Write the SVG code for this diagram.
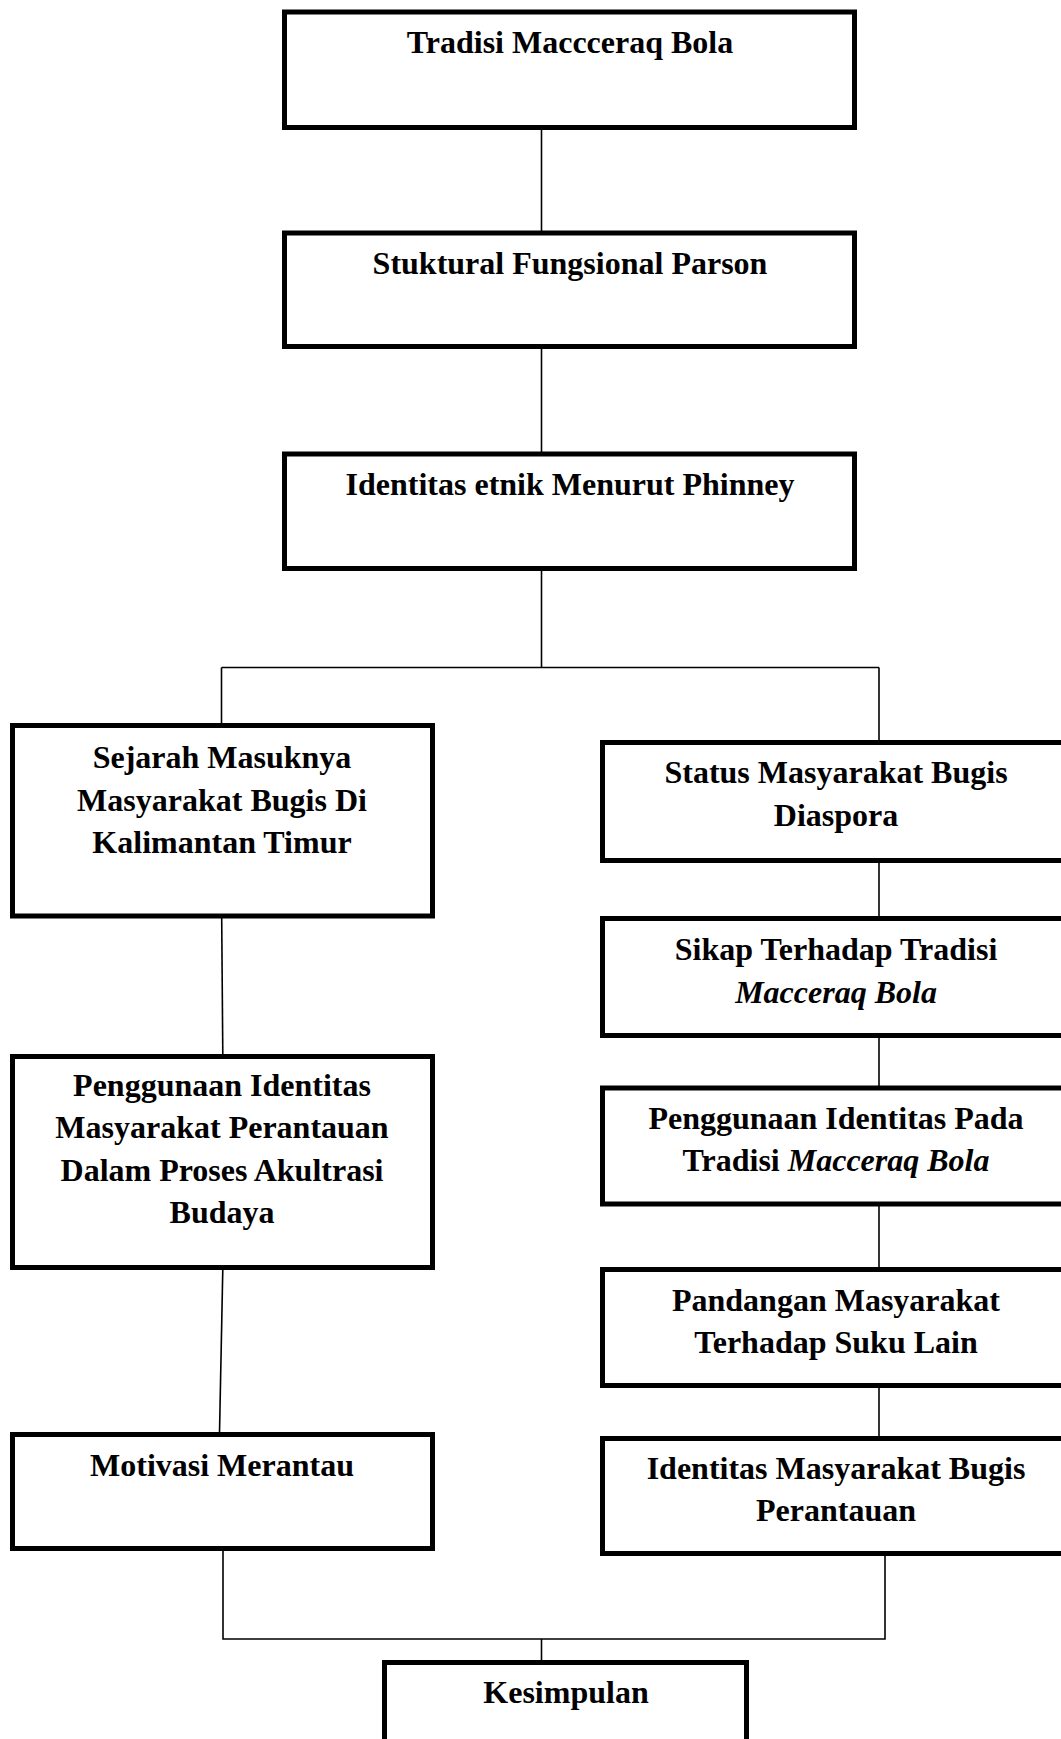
<svg xmlns="http://www.w3.org/2000/svg" width="1061" height="1739" viewBox="0 0 1061 1739">
<style>
.box{fill:#fff;stroke:#000;stroke-width:5}
.t{font-family:"Liberation Serif","Times New Roman",serif;font-weight:bold;font-size:32px;fill:#000;text-anchor:middle}
.i{font-style:italic}
.c{fill:none;stroke:#000;stroke-width:1.6}
</style>
<rect width="1061" height="1739" fill="#fff"/>
<g id="connectors">
<line class="c" x1="541.5" y1="130" x2="541.5" y2="231"/>
<line class="c" x1="541.5" y1="349" x2="541.5" y2="452"/>
<line class="c" x1="541.5" y1="571" x2="541.5" y2="667.5"/>
<line class="c" x1="221.5" y1="667.5" x2="879" y2="667.5"/>
<line class="c" x1="221.5" y1="667.5" x2="221.5" y2="724"/>
<line class="c" x1="879" y1="667.5" x2="879" y2="741"/>
<line class="c" x1="879" y1="862" x2="879" y2="917"/>
<line class="c" x1="879" y1="1037" x2="879" y2="1086"/>
<line class="c" x1="879" y1="1206" x2="879" y2="1268"/>
<line class="c" x1="879" y1="1387" x2="879" y2="1437"/>
<line class="c" x1="221.7" y1="918" x2="222.8" y2="1055"/>
<line class="c" x1="222.8" y1="1269" x2="219.5" y2="1433"/>
<polyline class="c" points="223,1550 223,1639 885,1639 885,1556"/>
<line class="c" x1="541.5" y1="1639" x2="541.5" y2="1661"/>
</g>
<g id="n1"><rect class="box" x="284.5" y="12" width="570" height="115.5"/><text class="t" x="570" y="52.5">Tradisi Maccceraq Bola</text></g>
<g id="n2"><rect class="box" x="284.5" y="233" width="570" height="113.5"/><text class="t" x="570" y="273.5">Stuktural Fungsional Parson</text></g>
<g id="n3"><rect class="box" x="284.5" y="454" width="570" height="114.5"/><text class="t" x="570" y="494.5">Identitas etnik Menurut Phinney</text></g>
<g id="l1"><rect class="box" x="12.5" y="725.5" width="420" height="190.5"/><text class="t" x="222"><tspan x="222" y="768">Sejarah Masuknya</tspan><tspan x="222" y="810.5">Masyarakat Bugis Di</tspan><tspan x="222" y="853">Kalimantan Timur</tspan></text></g>
<g id="l2"><rect class="box" x="12.5" y="1056.5" width="420" height="211"/><text class="t"><tspan x="222" y="1095.5">Penggunaan Identitas</tspan><tspan x="222" y="1138">Masyarakat Perantauan</tspan><tspan x="222" y="1180.5">Dalam Proses Akultrasi</tspan><tspan x="222" y="1223">Budaya</tspan></text></g>
<g id="l3"><rect class="box" x="12.5" y="1434.5" width="420" height="114"/><text class="t" x="222" y="1475.5">Motivasi Merantau</text></g>
<g id="r1"><rect class="box" x="602.5" y="742.5" width="500" height="118"/><text class="t"><tspan x="836" y="783">Status Masyarakat Bugis</tspan><tspan x="836" y="825.5">Diaspora</tspan></text></g>
<g id="r2"><rect class="box" x="602.5" y="918.5" width="500" height="117"/><text class="t"><tspan x="836" y="960">Sikap Terhadap Tradisi</tspan><tspan x="836" y="1002.5" class="i">Macceraq Bola</tspan></text></g>
<g id="r3"><rect class="box" x="602.5" y="1088" width="500" height="116"/><text class="t"><tspan x="836" y="1128.5">Penggunaan Identitas Pada</tspan><tspan x="836" y="1171">Tradisi <tspan class="i">Macceraq Bola</tspan></tspan></text></g>
<g id="r4"><rect class="box" x="602.5" y="1269.5" width="500" height="116"/><text class="t"><tspan x="836" y="1310.5">Pandangan Masyarakat</tspan><tspan x="836" y="1353">Terhadap Suku Lain</tspan></text></g>
<g id="r5"><rect class="box" x="602.5" y="1438.5" width="500" height="115"/><text class="t"><tspan x="836" y="1478.5">Identitas Masyarakat Bugis</tspan><tspan x="836" y="1521">Perantauan</tspan></text></g>
<g id="k"><rect class="box" x="384.5" y="1662.5" width="362" height="100"/><text class="t" x="566" y="1703">Kesimpulan</text></g>
</svg>
